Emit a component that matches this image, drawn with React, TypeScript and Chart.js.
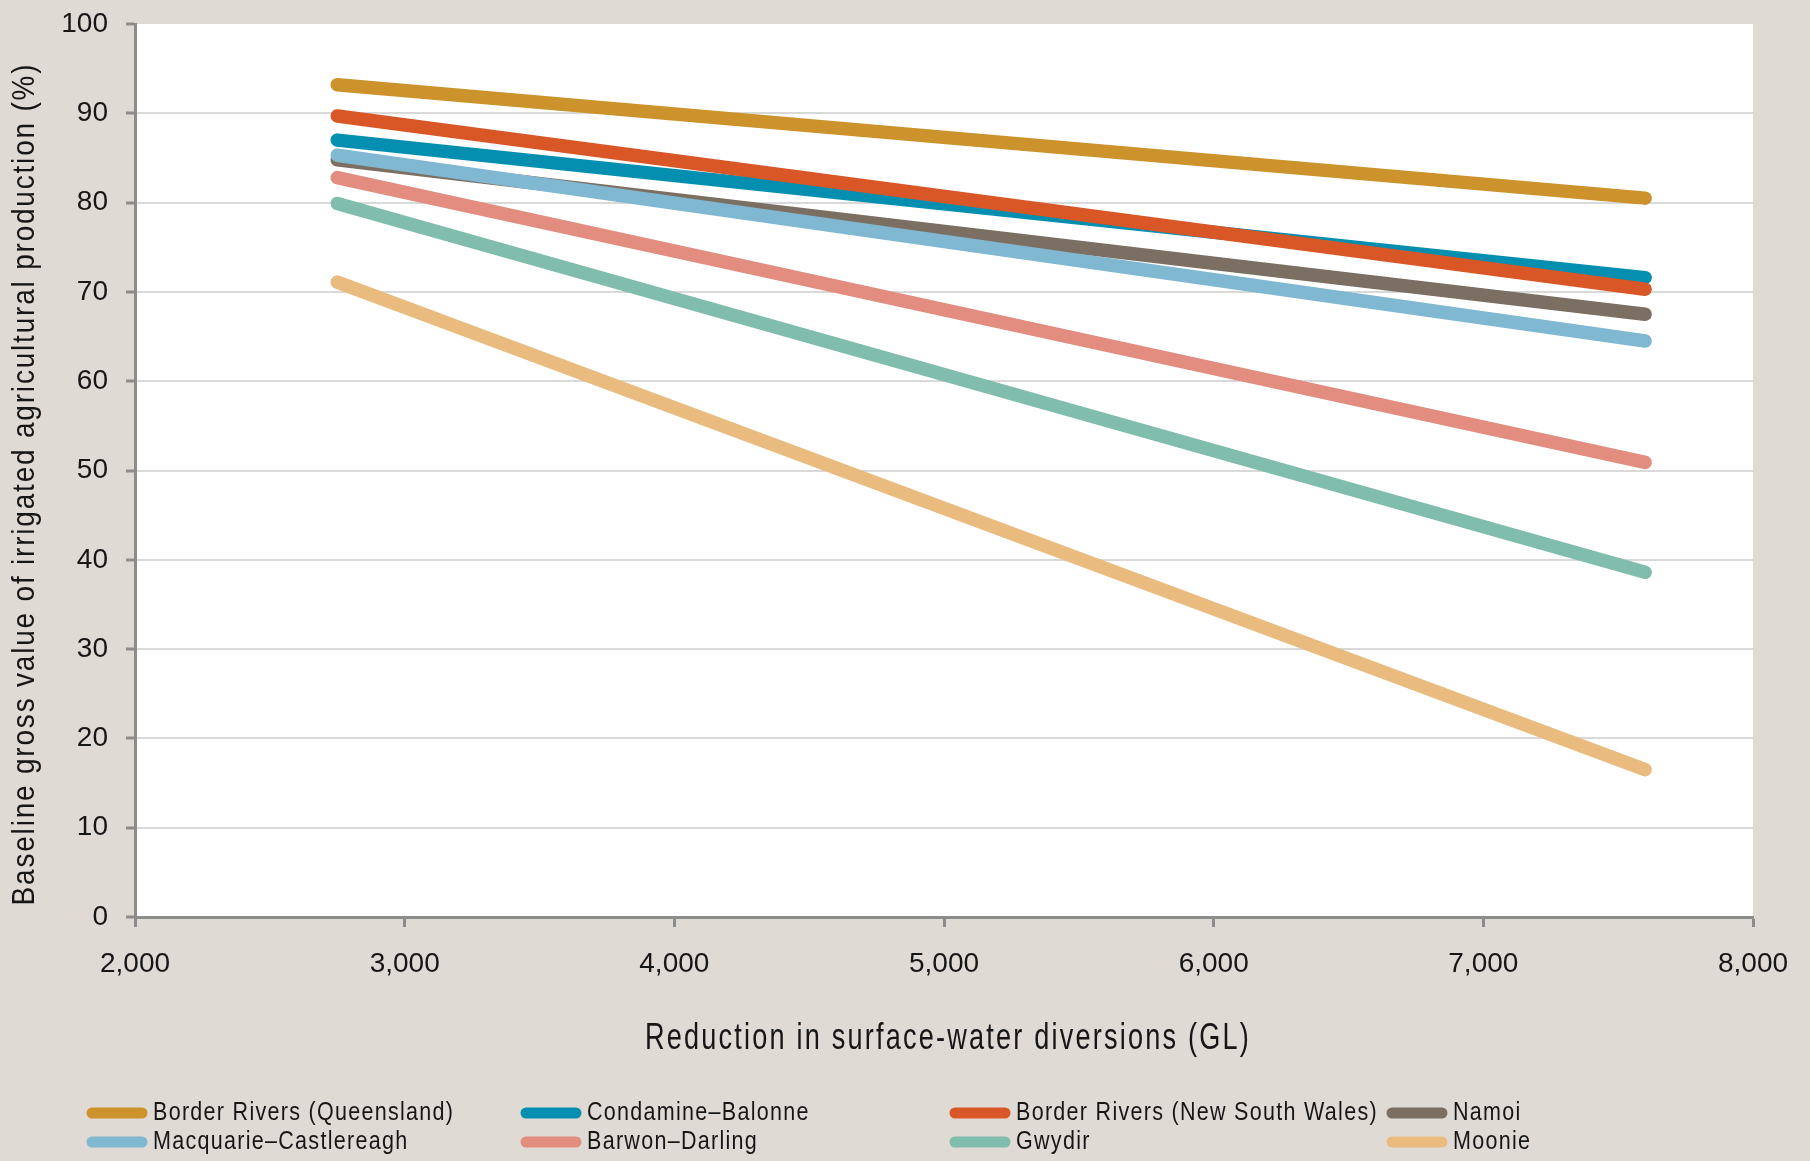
import React, { useEffect, useRef } from 'react';
import { Chart, registerables } from 'chart.js';

Chart.register(...registerables);

// ---------- data ----------
const xValues = [2750, 7600];
const seriesNames = [
  'Border Rivers (Queensland)',
  'Condamine–Balonne',
  'Border Rivers (New South Wales)',
  'Namoi',
  'Macquarie–Castlereagh',
  'Barwon–Darling',
  'Gwydir',
  'Moonie',
];
const borderRiversQld = [93.2, 80.5];
const condamineBalonne = [87.0, 71.6];
const borderRiversNsw = [89.7, 70.3];
const namoi = [84.8, 67.5];
const macquarieCastlereagh = [85.3, 64.5];
const barwonDarling = [82.8, 50.9];
const gwydir = [79.9, 38.6];
const moonie = [71.1, 16.5];
const seriesColors = ['#cc922b', '#048fb0', '#d95627', '#7b6e62', '#80b8d1', '#e28d80', '#80bdac', '#e9bb7f'];
const xAxisTitle = 'Reduction in surface-water diversions (GL)';
const yAxisTitle = 'Baseline gross value of irrigated agricultural production (%)';
const xMin = 2000;
const xMax = 8000;
const xStep = 1000;
const yMin = 0;
const yMax = 100;
const yStep = 10;

const seriesValues = [
  borderRiversQld,
  condamineBalonne,
  borderRiversNsw,
  namoi,
  macquarieCastlereagh,
  barwonDarling,
  gwydir,
  moonie,
];

const FONT = '"Liberation Sans", Arial, Helvetica, sans-serif';
const TEXT = '#161616';
const AXIS = '#8c8c8c';
const BG = '#e0dad5';

function drawFitted(
  ctx: CanvasRenderingContext2D,
  text: string,
  x: number,
  y: number,
  size: number,
  spacing: number,
  k: number,
  align: CanvasTextAlign,
  rotate: boolean
) {
  ctx.save();
  ctx.font = `${size}px ${FONT}`;
  (ctx as any).letterSpacing = `${spacing}px`;
  ctx.fillStyle = TEXT;
  ctx.textAlign = align;
  ctx.textBaseline = 'middle';
  ctx.translate(x, y);
  if (rotate) ctx.rotate(-Math.PI / 2);
  ctx.scale(k, 1);
  ctx.fillText(text, 0, 0);
  ctx.restore();
}

function widthOf(ctx: CanvasRenderingContext2D, text: string, size: number, spacing: number) {
  ctx.save();
  ctx.font = `${size}px ${FONT}`;
  (ctx as any).letterSpacing = `${spacing}px`;
  const w = ctx.measureText(text).width - spacing;
  ctx.restore();
  return w;
}

const plotBackground = {
  id: 'plotBackground',
  beforeDraw(chart: any) {
    const { ctx, chartArea } = chart;
    ctx.save();
    ctx.fillStyle = '#ffffff';
    ctx.fillRect(chartArea.left, chartArea.top, chartArea.right - chartArea.left, chartArea.bottom - chartArea.top);
    ctx.restore();
  },
};

const textDecor = {
  id: 'textDecor',
  afterDraw(chart: any) {
    const { ctx, chartArea } = chart;
    // x axis title
    const xs = 37, xsp = 3;
    const kx = 604 / widthOf(ctx, xAxisTitle, xs, xsp);
    drawFitted(ctx, xAxisTitle, (chartArea.left + chartArea.right) / 2 + 4, 1039, xs, xsp, kx, 'center', false);
    // y axis title
    const ys = 31, ysp = 2;
    const ky = 841 / widthOf(ctx, yAxisTitle, ys, ysp);
    drawFitted(ctx, yAxisTitle, 25, 484, ys, ysp, ky, 'center', true);
    // legend
    const ls = 25, lsp = 1.5;
    const kl = 300 / widthOf(ctx, seriesNames[0], ls, lsp);
    const cols = [87, 521, 950, 1387];
    const rows = [1113, 1142];
    seriesNames.forEach((name, i) => {
      const col = cols[i % 4];
      const row = rows[Math.floor(i / 4)];
      ctx.save();
      ctx.strokeStyle = seriesColors[i];
      ctx.lineWidth = 11;
      ctx.lineCap = 'round';
      ctx.beginPath();
      ctx.moveTo(col + 5, row);
      ctx.lineTo(col + 55, row);
      ctx.stroke();
      ctx.restore();
      drawFitted(ctx, name, col + 66, row, ls, lsp, kl, 'left', false);
    });
  },
};

export default function App() {
  const canvasRef = useRef<HTMLCanvasElement | null>(null);

  useEffect(() => {
    document.body.style.margin = '0';
    const canvas = canvasRef.current;
    if (!canvas) return;
    const datasets = seriesNames.map((name, i) => ({
      label: name,
      data: xValues.map((x, j) => ({ x, y: seriesValues[i][j] })),
      borderColor: seriesColors[i],
      backgroundColor: seriesColors[i],
      borderWidth: 13.5,
      borderCapStyle: 'round' as const,
      borderJoinStyle: 'round' as const,
      pointRadius: 0,
      pointHoverRadius: 0,
      fill: false,
      tension: 0,
      order: seriesNames.length - i,
      clip: false as any,
    }));

    const chart = new Chart(canvas, {
      type: 'line',
      data: { datasets },
      plugins: [plotBackground, textDecor],
      options: {
        animation: false,
        responsive: false,
        maintainAspectRatio: false,
        layout: { padding: { top: 24, right: 57, left: 0, bottom: 0 } },
        plugins: {
          legend: { display: false },
          tooltip: { enabled: false },
          title: { display: false },
        },
        scales: {
          x: {
            type: 'linear',
            min: xMin,
            max: xMax,
            afterFit(scale: any) {
              scale.height = 244;
              scale.paddingLeft = 0;
              scale.paddingRight = 0;
            },
            ticks: {
              stepSize: xStep,
              color: TEXT,
              font: { family: FONT, size: 28 },
              padding: 20,
              maxRotation: 0,
              callback: (v: any) => Number(v).toLocaleString('en-US'),
            },
            grid: {
              drawOnChartArea: false,
              drawTicks: true,
              tickLength: 10,
              tickColor: AXIS,
              tickWidth: 3,
            },
            border: { display: true, color: AXIS, width: 3 },
          },
          y: {
            type: 'linear',
            min: yMin,
            max: yMax,
            afterFit(scale: any) {
              scale.width = 135;
              scale.paddingTop = 0;
              scale.paddingBottom = 0;
            },
            ticks: {
              stepSize: yStep,
              color: TEXT,
              font: { family: FONT, size: 28 },
              padding: 18,
            },
            grid: {
              color: (c: any) => (c.tick && c.tick.value === yMax ? 'rgba(0,0,0,0)' : '#d9d9d9'),
              lineWidth: 2,
              drawTicks: true,
              tickLength: 9,
              tickColor: AXIS,
              tickWidth: 3,
            },
            border: { display: true, color: AXIS, width: 3 },
          },
        },
      },
    });
    return () => chart.destroy();
  }, []);

  return (
    <div style={{ position: 'relative', width: 1810, height: 1161, background: BG }}>
      <canvas ref={canvasRef} width={1810} height={1161} style={{ display: 'block' }} />
    </div>
  );
}
